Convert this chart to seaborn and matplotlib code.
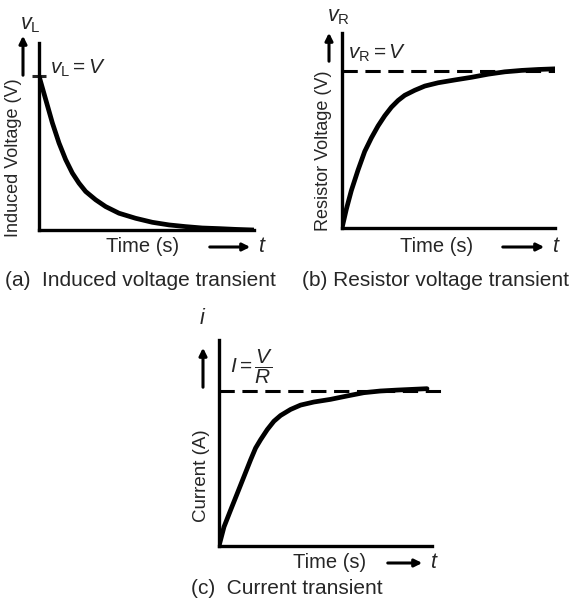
import numpy as np
import pandas as pd
import matplotlib
matplotlib.use('Agg')
import matplotlib.pyplot as plt
from matplotlib.patches import FancyArrowPatch
import seaborn as sns

# values (time in arbitrary units 0..5, value as fraction of V)
t_a = [0, 0.155, 0.31, 0.465, 0.62, 0.775, 0.93, 1.085, 1.318, 1.55, 1.86, 2.248, 2.636, 3.023, 3.411, 3.798, 4.186, 4.574, 5.0]
v_a = [1.0, 0.848, 0.696, 0.565, 0.457, 0.37, 0.304, 0.25, 0.196, 0.152, 0.109, 0.076, 0.05, 0.033, 0.022, 0.013, 0.009, 0.004, 0.0]

t_b = [0, 0.102, 0.219, 0.376, 0.533, 0.69, 0.846, 1.003, 1.16, 1.317, 1.473, 1.708, 1.944, 2.257, 2.649, 3.041, 3.433, 3.824, 4.216, 4.608, 5.0]
v_b = [0, 0.12, 0.239, 0.37, 0.489, 0.576, 0.652, 0.717, 0.772, 0.815, 0.848, 0.88, 0.907, 0.928, 0.946, 0.963, 0.983, 0.998, 1.007, 1.013, 1.017]

t_c = [0, 0.117, 0.273, 0.43, 0.586, 0.742, 0.859, 0.977, 1.133, 1.289, 1.445, 1.68, 1.914, 2.227, 2.617, 3.008, 3.398, 3.789, 4.18, 4.57, 4.883]
i_c = [0, 0.123, 0.232, 0.34, 0.448, 0.556, 0.632, 0.686, 0.751, 0.805, 0.842, 0.881, 0.909, 0.929, 0.946, 0.968, 0.989, 1.0, 1.006, 1.011, 1.015]

steady_b = [0, 5.0]
steady_c = [0, 5.2]

sns.set_style('white')
plt.rcParams['font.family'] = ['Liberation Sans', 'DejaVu Sans']
plt.rcParams['mathtext.fontset'] = 'custom'
plt.rcParams['mathtext.rm'] = 'Liberation Sans'
plt.rcParams['mathtext.it'] = 'Liberation Sans:italic'

W, H = 581, 608
fig = plt.figure(figsize=(W / 100, H / 100), dpi=100)


def fx(x):
    return x / W


def fy(y):
    return 1 - y / H


def make_ax(l, r, top, bot, ytop):
    ax = fig.add_axes([fx(l), fy(bot), fx(r - l), (bot - top) / H])
    ax.set_xlim(0, 5)
    ax.set_ylim(0, ytop)
    for s in ['top', 'right']:
        ax.spines[s].set_visible(False)
    for s in ['left', 'bottom']:
        ax.spines[s].set_linewidth(2.4)
        ax.spines[s].set_color('black')
    ax.set_xticks([])
    ax.set_yticks([])
    ax.patch.set_alpha(0)
    return ax


def txt(x, y, s, **kw):
    kw.setdefault('ha', 'center')
    kw.setdefault('va', 'center')
    fig.text(fx(x), fy(y), s, **kw)


def arrow(x0, y0, x1, y1):
    fig.add_artist(FancyArrowPatch((fx(x0), fy(y0)), (fx(x1), fy(y1)),
                                   transform=fig.transFigure, arrowstyle='-|>',
                                   mutation_scale=11, lw=2.2, color='black'))


# (a) induced voltage
ax_a = make_ax(39, 254, 43, 230, 1.214)
sns.lineplot(x=t_a, y=v_a, ax=ax_a, color='black', lw=3.4)
ax_a.set_yticks([1])
ax_a.tick_params(axis='y', direction='inout', length=10, width=2.2, left=True, labelleft=False)
txt(30, 25, r'$v_{\rm L}$', fontsize=15.5)
arrow(23, 78, 23, 33)
txt(14, 158, 'Induced Voltage (V)', rotation=90, fontsize=13)
txt(50, 68, r'$v_{\rm L} = V$', fontsize=15, ha='left')
txt(143, 247, 'Time (s)', fontsize=14.5)
arrow(207, 247, 253, 247)
txt(262, 247, r'$t$', fontsize=15.5)
txt(140, 280, '(a)  Induced voltage transient', fontsize=15)

# (b) resistor voltage
ax_b = make_ax(342, 555, 33, 228, 1.246)
sns.lineplot(x=steady_b, y=[1, 1], ax=ax_b, color='black', lw=2.2, linestyle=(0, (5, 2.5)))
sns.lineplot(x=t_b, y=v_b, ax=ax_b, color='black', lw=3.4)
txt(338, 17, r'$v_{\rm R}$', fontsize=15.5)
arrow(329, 64, 329, 30)
txt(323, 151, 'Resistor Voltage (V)', rotation=90, fontsize=13)
txt(348, 53, r'$v_{\rm R} = V$', fontsize=15, ha='left')
txt(437, 247, 'Time (s)', fontsize=14.5)
arrow(500, 247, 547, 247)
txt(556, 247, r'$t$', fontsize=15.5)
txt(435, 280, '(b) Resistor voltage transient', fontsize=15)

# (c) current
ax_c = make_ax(219, 432, 340, 546, 1.329)
sns.lineplot(x=steady_c, y=[1, 1], ax=ax_c, color='black', lw=2.2, linestyle=(0, (5, 2.5)))
ax_c.lines[-1].set_clip_on(False)
sns.lineplot(x=t_c, y=i_c, ax=ax_c, color='black', lw=3.4)
txt(203, 318, r'$i$', fontsize=15.5)
arrow(203, 390, 203, 345)
txt(230, 367, r'$I = \dfrac{V}{R}$', fontsize=15, ha='left')
txt(202, 476, 'Current (A)', rotation=90, fontsize=13.5)
txt(330, 563, 'Time (s)', fontsize=14.5)
arrow(385, 563, 425, 563)
txt(434, 563, r'$t$', fontsize=15.5)
txt(287, 588, '(c)  Current transient', fontsize=15)

fig.savefig('out.png', dpi=100)
